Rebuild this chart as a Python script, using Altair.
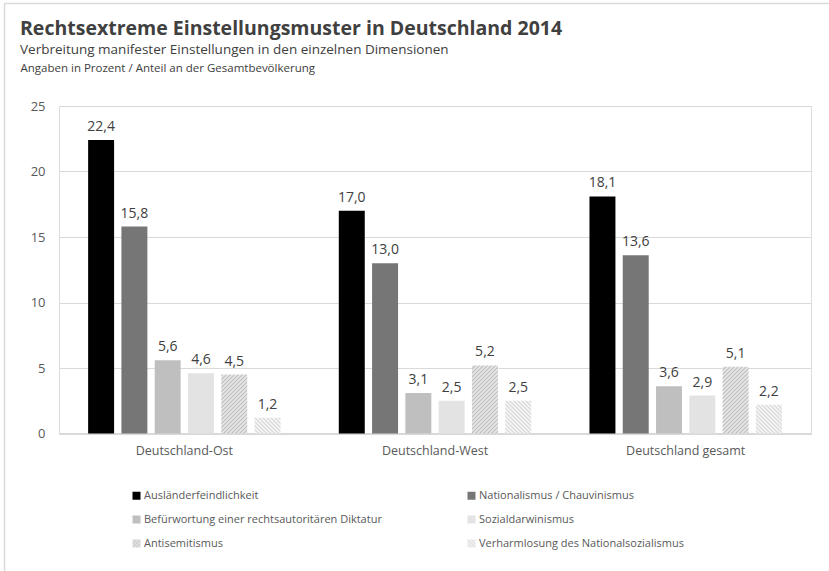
import altair as alt
import pandas as pd
from altair.utils.html import HTML_TEMPLATE

# Data: share of the population with manifest right-wing extremist attitudes, 2014
regions = ["Deutschland-Ost", "Deutschland-West", "Deutschland gesamt"]
dimensions = [
    "Ausländerfeindlichkeit",
    "Nationalismus / Chauvinismus",
    "Befürwortung einer rechtsautoritären Diktatur",
    "Sozialdarwinismus",
    "Antisemitismus",
    "Verharmlosung des Nationalsozialismus",
]
values_ost = [22.4, 15.8, 5.6, 4.6, 4.5, 1.2]
values_west = [17.0, 13.0, 3.1, 2.5, 5.2, 2.5]
values_gesamt = [18.1, 13.6, 3.6, 2.9, 5.1, 2.2]
y_ticks = [0, 5, 10, 15, 20, 25]

# Fills: solid greys plus two hatch patterns defined in the page
fills = ["#000000", "#767676", "#bfbfbf", "#e3e3e3", "url(#hatch-up)", "url(#hatch-down)"]

rows = []
for region, vals in zip(regions, [values_ost, values_west, values_gesamt]):
    for dim, v in zip(dimensions, vals):
        rows.append({"region": region, "dim": dim, "value": v})
df = pd.DataFrame(rows)

FONT = "Open Sans"
TEXT = "#404040"
AXIS_TEXT = "#595959"
GRID = "#d9d9d9"

base = alt.Chart(df).transform_calculate(
    label="replace(format(datum.value, '.1f'), '.', ',')"
).encode(
    x=alt.X(
        "region:N",
        sort=regions,
        scale=alt.Scale(paddingInner=0, paddingOuter=0),
        axis=alt.Axis(
            title=None, labelAngle=0, ticks=False, domain=True,
            domainColor=GRID, domainWidth=2, labelPadding=11,
            labelFont=FONT, labelFontSize=12.5, labelColor=AXIS_TEXT,
        ),
    ),
    xOffset=alt.XOffset(
        "dim:N", sort=dimensions,
        scale=alt.Scale(paddingInner=0.22, paddingOuter=0.875),
    ),
    y=alt.Y(
        "value:Q",
        scale=alt.Scale(domain=[0, 25], nice=False),
        axis=alt.Axis(
            values=y_ticks, domain=False, ticks=False, grid=True,
            gridColor=GRID, gridWidth=1, labelPadding=14,
            labelFont=FONT, labelFontSize=13, labelColor=AXIS_TEXT,
            title="Angaben in Prozent / Anteil an der Gesamtbevölkerung",
            titleAngle=0, titleAlign="left", titleBaseline="alphabetic",
            titleX=-39, titleY=-35, titleFont=FONT, titleFontSize=11.5,
            titleFontWeight="normal", titleColor=TEXT,
        ),
    ),
)

bars = base.mark_bar().encode(
    color=alt.Color(
        "dim:N",
        sort=dimensions,
        scale=alt.Scale(domain=dimensions, range=fills),
        legend=alt.Legend(
            title=None, orient="none", legendX=72, legendY=384,
            direction="horizontal", columns=2, columnPadding=84,
            rowPadding=12, padding=0,
            symbolType="square", symbolSize=64, symbolStrokeWidth=0,
            labelOffset=2, labelFont=FONT, labelFontSize=11,
            labelColor=AXIS_TEXT, labelLimit=400,
        ),
    )
)

labels = base.mark_text(
    baseline="bottom", dy=-6, font=FONT, fontSize=14, color=TEXT
).encode(text="label:N")

# Outer frame lines along the left and top edge of the figure
frame_df = pd.DataFrame({"k": [0]})
frame_left = alt.Chart(frame_df).mark_rule(color=GRID, strokeWidth=1.5).encode(
    x=alt.value(-54.5), y=alt.value(-102.5), y2=alt.value(470)
)
frame_top = alt.Chart(frame_df).mark_rule(color=GRID, strokeWidth=1.5).encode(
    x=alt.value(-54.5), x2=alt.value(780), y=alt.value(-102.5)
)

chart = alt.layer(frame_left, frame_top, bars, labels).properties(
    width=752,
    height=327.5,
    padding={"left": 59, "top": 106, "right": 18, "bottom": 137},
    autosize=alt.AutoSizeParams(type="none"),
    title=alt.TitleParams(
        text="Rechtsextreme Einstellungsmuster in Deutschland 2014",
        subtitle="Verbreitung manifester Einstellungen in den einzelnen Dimensionen",
        anchor="start", frame="group", dx=-39, dy=57, offset=2,
        font=FONT, fontSize=19.5, fontWeight="bold", color=TEXT,
        subtitleFont=FONT, subtitleFontSize=13.5, subtitleColor=TEXT,
        subtitlePadding=4,
    ),
).configure_view(stroke=None).configure(background="white")

# Hatch patterns referenced by the fill colours above
HATCH_DEFS = """<svg width="0" height="0" style="position:absolute">
  <defs>
    <pattern id="hatch-up" patternUnits="userSpaceOnUse" width="4" height="4">
      <rect width="4" height="4" fill="#e8e8e8"/>
      <path d="M-1,1 l2,-2 M0,4 l4,-4 M3,5 l2,-2" stroke="#bcbcbc" stroke-width="1.1"/>
    </pattern>
    <pattern id="hatch-down" patternUnits="userSpaceOnUse" width="4" height="4">
      <rect width="4" height="4" fill="#f6f6f6"/>
      <path d="M-1,3 l2,2 M0,0 l4,4 M3,-1 l2,2" stroke="#d6d6d6" stroke-width="1.1"/>
    </pattern>
  </defs>
</svg>"""


class HatchTemplate:
    def render(self, **kwargs):
        page = HTML_TEMPLATE.render(**kwargs)
        return page.replace("<body>", "<body>\n" + HATCH_DEFS, 1)


chart.save("out.html", embed_options={"renderer": "svg", "actions": False}, template=HatchTemplate())
